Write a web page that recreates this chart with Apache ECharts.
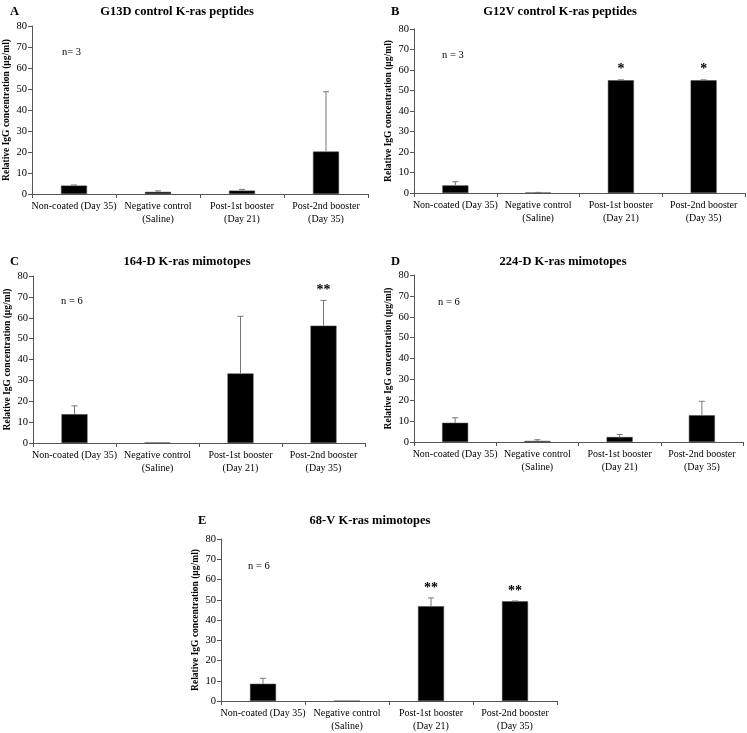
<!DOCTYPE html>
<html><head><meta charset="utf-8">
<script src="https://cdn.jsdelivr.net/npm/echarts@6/dist/echarts.min.js"></script>
<style>html,body{margin:0;padding:0;background:#fff}#c{width:747px;height:733px}</style>
</head><body><div id="c"></div>
<script>
const categories = ['Non-coated (Day 35)', 'Negative control\n(Saline)', 'Post-1st booster\n(Day 21)', 'Post-2nd booster\n(Day 35)'];
const yTicks = [0, 10, 20, 30, 40, 50, 60, 70, 80];
const titles = ['G13D control K-ras peptides', 'G12V control K-ras peptides', '164-D K-ras mimotopes', '224-D K-ras mimotopes', '68-V K-ras mimotopes'];
const letters = ['A', 'B', 'C', 'D', 'E'];
const nLabels = ['n= 3', 'n = 3', 'n = 6', 'n = 6', 'n = 6'];
const yName = 'Relative IgG concentration (µg/ml)';

const meanA = [4.0, 1.0, 1.6, 20.2];
const errA  = [0.3, 0.5, 0.6, 28.5];
const sigA  = ['', '', '', ''];
const meanB = [3.7, 0.2, 55.0, 55.0];
const errB  = [1.8, 0.1, 0.2, 0.2];
const sigB  = ['', '', '*', '*'];
const meanC = [13.8, 0.2, 33.3, 56.2];
const errC  = [4.0, 0.0, 27.4, 12.1];
const sigC  = ['', '', '', '**'];
const meanD = [9.2, 0.5, 2.4, 12.8];
const errD  = [2.4, 0.6, 1.2, 6.7];
const sigD  = ['', '', '', ''];
const meanE = [8.5, 0.0, 46.8, 49.2];
const errE  = [2.7, 0.0, 4.1, 0.2];
const sigE  = ['', '', '**', '**'];

const means = [meanA, meanB, meanC, meanD, meanE];
const errs = [errA, errB, errC, errD, errE];
const sigs = [sigA, sigB, sigC, sigD, sigE];

// layout (pixels)
const grids = [
  {left: 32, top: 26, width: 336, height: 168},
  {left: 414, top: 29, width: 331, height: 164},
  {left: 33, top: 276, width: 332, height: 167},
  {left: 414, top: 275, width: 329, height: 167},
  {left: 221, top: 539, width: 336, height: 166}
];
const titlePos = [
  {x: 172, y: 8, lx: 5, ly: 8, nx: 62, ny: 53},
  {x: 555, y: 8, lx: 386, ly: 8, nx: 442, ny: 56},
  {x: 182, y: 258, lx: 5, ly: 258, nx: 61, ny: 302},
  {x: 558, y: 258, lx: 386, ly: 258, nx: 438, ny: 303},
  {x: 365, y: 517, lx: 193, ly: 517, nx: 248, ny: 567}
];
const FONT = '"Liberation Serif", "Times New Roman", serif';

const option = {
  animation: false,
  backgroundColor: '#fff',
  textStyle: {fontFamily: FONT},
  grid: grids.map(g => Object.assign({containLabel: false}, g)),
  title: [],
  graphic: [],
  xAxis: [], yAxis: [], series: []
};

for (let i = 0; i < 5; i++) {
  const tp = titlePos[i];
  option.title.push({text: titles[i], left: tp.x, top: tp.y - 8, textAlign: 'center',
    textStyle: {fontFamily: FONT, fontSize: 12.5, fontWeight: 'bold', color: '#000'}});
  option.title.push({text: letters[i], left: tp.lx, top: tp.ly - 8,
    textStyle: {fontFamily: FONT, fontSize: 12.5, fontWeight: 'bold', color: '#000'}});
  option.graphic.push({type: 'text', left: tp.nx, top: tp.ny - 6,
    style: {text: nLabels[i], font: '10.5px ' + FONT, fill: '#000'}});

  option.xAxis.push({
    type: 'category', gridIndex: i, data: categories, boundaryGap: true,
    axisLine: {lineStyle: {color: '#555', width: 1}},
    axisTick: {show: true, alignWithLabel: false, length: 4, lineStyle: {color: '#555'}},
    axisLabel: {interval: 0, color: '#000', fontFamily: FONT, fontSize: 10, lineHeight: 13, margin: 6}
  });
  option.yAxis.push({
    type: 'value', gridIndex: i, min: 0, max: 80, interval: 10,
    name: yName, nameLocation: 'middle', nameGap: 20, nameRotate: 90,
    nameTextStyle: {fontFamily: FONT, fontSize: 9.5, fontWeight: 'bold', color: '#000'},
    axisLine: {show: true, lineStyle: {color: '#555', width: 1}},
    axisTick: {show: true, length: 4, lineStyle: {color: '#555'}},
    splitLine: {show: false},
    axisLabel: {color: '#000', fontFamily: FONT, fontSize: 10.5, margin: 5}
  });
  option.series.push({
    type: 'bar', xAxisIndex: i, yAxisIndex: i, data: means[i], barWidth: 26,
    itemStyle: {color: '#000', borderColor: '#444', borderWidth: 0.5}
  });
  const eb = means[i].map((m, k) => [k, m, m + errs[i][k], sigs[i][k]]);
  option.series.push({
    type: 'custom', xAxisIndex: i, yAxisIndex: i, data: eb, z: 5,
    renderItem: function (params, api) {
      const x = api.value(0);
      const base = api.coord([x, api.value(1)]);
      const top = api.coord([x, api.value(2)]);
      const sig = eb[params.dataIndex][3];
      const children = [];
      if (api.value(2) > api.value(1)) {
        children.push({type: 'line', shape: {x1: base[0], y1: base[1], x2: top[0], y2: top[1]},
          style: {stroke: '#777', lineWidth: 1}});
        children.push({type: 'line', shape: {x1: top[0] - 3, y1: top[1], x2: top[0] + 3, y2: top[1]},
          style: {stroke: '#777', lineWidth: 1}});
      }
      if (sig) {
        children.push({type: 'text', x: top[0], y: top[1] - 3,
          style: {text: sig, font: 'bold 14px ' + FONT, fill: '#000', align: 'center', verticalAlign: 'bottom'}});
      }
      return {type: 'group', children: children};
    }
  });
}

const chart = echarts.init(document.getElementById('c'), null, {renderer: 'canvas'});
chart.setOption(option);
</script></body></html>
